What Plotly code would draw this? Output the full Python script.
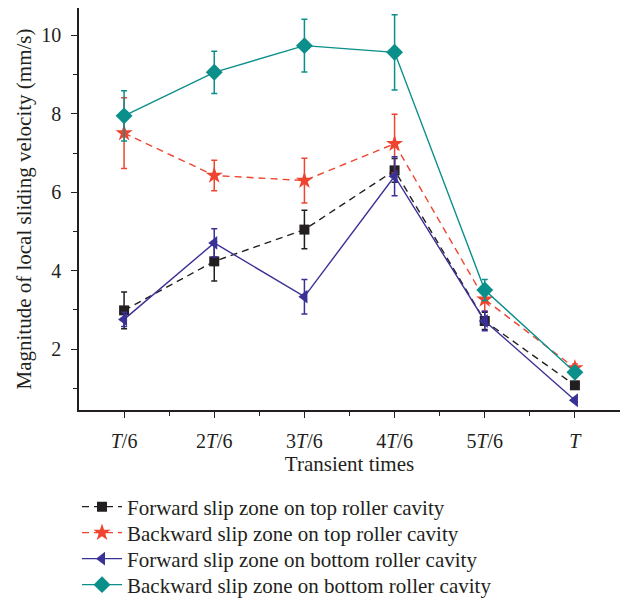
import plotly.graph_objects as go

x_vals = [1, 2, 3, 4, 5, 6]
x_labels = ["<i>T</i>/6", "2<i>T</i>/6", "3<i>T</i>/6", "4<i>T</i>/6", "5<i>T</i>/6", "<i>T</i>"]

fwd_top = [2.99, 4.24, 5.05, 6.56, 2.72, 1.08]
fwd_top_err = [0.47, 0.50, 0.49, 0.30, 0.22, 0.08]

bwd_top = [7.51, 6.43, 6.30, 7.24, 3.27, 1.52]
bwd_top_err = [0.90, 0.39, 0.57, 0.75, 0.30, 0.10]

fwd_bot = [2.76, 4.71, 3.34, 6.41, 2.72, 0.70]
fwd_bot_err = [0.18, 0.36, 0.44, 0.50, 0.25, 0.05]

bwd_bot = [7.95, 9.06, 9.74, 9.57, 3.51, 1.41]
bwd_bot_err = [0.64, 0.54, 0.67, 0.96, 0.27, 0.10]

names = [
    "Forward slip zone on top roller cavity",
    "Backward slip zone on top roller cavity",
    "Forward slip zone on bottom roller cavity",
    "Backward slip zone on bottom roller cavity",
]

series = [
    (fwd_top, fwd_top_err, names[0], "#231f20", "7px,5px", "square", 10),
    (bwd_top, bwd_top_err, names[1], "#ef4530", "7px,5px", "star", 13),
    (fwd_bot, fwd_bot_err, names[2], "#3a3196", "solid", "triangle-left", 12),
    (bwd_bot, bwd_bot_err, names[3], "#0a8f8a", "solid", "diamond", 13),
]

W, H = 622, 600
ml, mr, mt, mb = 79, 2, 8, 190
pw, ph = W - ml - mr, H - mt - mb
legend_rows_px = [507, 533, 559, 585]
legend_left_px = 77

font_family = "Liberation Serif, Times New Roman, serif"

fig = go.Figure()
legend_layouts = {}
for i, (y, err, name, color, dash, sym, size) in enumerate(series):
    key = "legend" if i == 0 else f"legend{i + 1}"
    fig.add_trace(go.Scatter(
        x=x_vals, y=y, name=name, mode="lines+markers", legend=key,
        line=dict(color=color, width=1.4, dash=dash),
        marker=dict(symbol=sym, size=size, color=color),
        error_y=dict(type="data", array=err, visible=True, color=color,
                     thickness=1.5, width=3),
    ))
    legend_layouts[key] = dict(
        x=(legend_left_px - ml) / pw, y=(H - mb - legend_rows_px[i]) / ph,
        xanchor="left", yanchor="middle",
        font=dict(size=21, family=font_family), itemwidth=40,
        bgcolor="rgba(0,0,0,0)",
    )

fig.update_layout(
    width=W, height=H,
    margin=dict(l=ml, r=mr, t=mt, b=mb, autoexpand=False),
    paper_bgcolor="white", plot_bgcolor="white",
    font=dict(family=font_family, size=20, color="#231f20"),
    showlegend=True,
    xaxis=dict(
        automargin=False,
        range=[0.5, 6.5], tickvals=x_vals, ticktext=x_labels,
        showline=True, linecolor="#231f20", linewidth=1.5,
        ticks="outside", ticklen=6, tickwidth=1.2, tickcolor="#231f20",
        ticklabelstandoff=6,
        showgrid=False, zeroline=False,
        minor=dict(tickvals=[1.5, 2.5, 3.5, 4.5, 5.5], ticks="outside", ticklen=4,
                   tickcolor="#231f20", tickwidth=1.2, showgrid=False),
        title=dict(text="Transient times", font=dict(size=21), standoff=6),
        tickfont=dict(size=20),
    ),
    yaxis=dict(
        automargin=False,
        range=[0.45, 10.7], tickvals=[2, 4, 6, 8, 10],
        showline=True, linecolor="#231f20", linewidth=1.5,
        ticks="outside", ticklen=6, tickwidth=1.2, tickcolor="#231f20",
        ticklabelstandoff=6,
        showgrid=False, zeroline=False,
        minor=dict(tickvals=[1, 3, 5, 7, 9], ticks="outside", ticklen=4,
                   tickcolor="#231f20", tickwidth=1.2, showgrid=False),
        title=dict(text="Magnitude of local sliding velocity (mm/s)", font=dict(size=21), standoff=4),
        tickfont=dict(size=20),
    ),
    **legend_layouts,
)

fig.write_html("out.html", config={"displayModeBar": False},
               post_script="document.body.style.margin='0';")
